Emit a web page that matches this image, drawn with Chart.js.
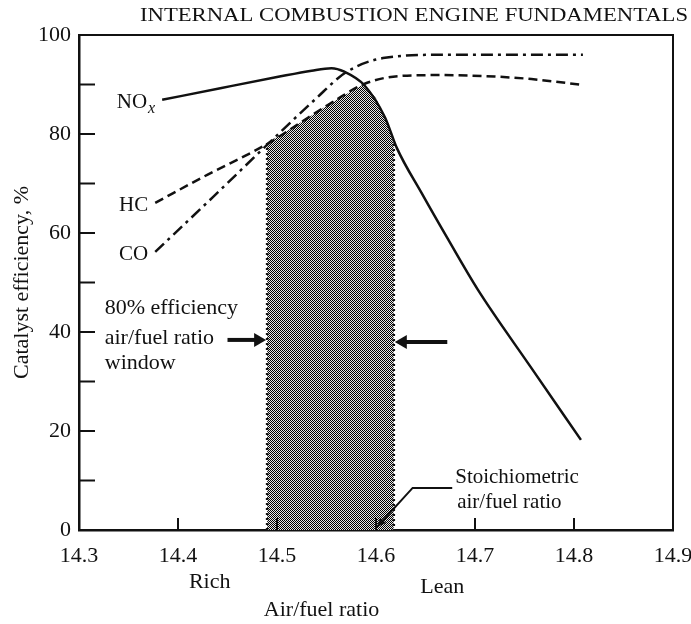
<!DOCTYPE html>
<html>
<head>
<meta charset="utf-8">
<title>Catalyst efficiency vs air/fuel ratio</title>
<script src="https://cdn.jsdelivr.net/npm/chart.js@4.4.1/dist/chart.umd.min.js"></script>
<style>
  html, body { margin: 0; padding: 0; background: #fff; }
  canvas { display: block; }
</style>
</head>
<body>
<canvas id="my-chart" width="691" height="624"></canvas>
<script>
'use strict';

// ***** DATA *****

let noxX = [14.384, 14.444, 14.500, 14.535, 14.555, 14.568, 14.588, 14.609, 14.621, 14.646, 14.672, 14.703, 14.756, 14.807];
let noxY = [86.9, 89.3, 91.5, 92.8, 93.3, 92.6, 89.9, 83.4, 77.2, 68.1, 59.0, 48.5, 33.0, 18.2];

let hcX = [14.377, 14.430, 14.492, 14.520, 14.555, 14.588, 14.623, 14.666, 14.720, 14.757, 14.809];
let hcY = [66.1, 71.8, 78.2, 81.8, 86.3, 90.1, 91.7, 91.9, 91.6, 91.1, 89.9];

let coX = [14.377, 14.435, 14.492, 14.538, 14.570, 14.609, 14.666, 14.740, 14.809];
let coY = [56.2, 67.2, 78.2, 86.9, 92.5, 95.4, 96.0, 96.0, 96.0];

// 80% window, top follows HC then NOx
let windowX = [14.490, 14.490, 14.520, 14.555, 14.588, 14.600, 14.609, 14.618, 14.618];
let windowY = [0, 78.2, 81.8, 86.3, 90.1, 87.2, 83.4, 78.0, 0];

let xTicks = [14.3, 14.4, 14.5, 14.6, 14.7, 14.8, 14.9];
let yTicks = [0, 20, 40, 60, 80, 100];

let seriesNames = ['NO', 'HC', 'CO'];


// ***** ANNOTATIONS (data coordinates) *****

let notes = [
    { text: '80% efficiency', x: 14.326, y: 44.8, align: 'left' },
    { text: 'air/fuel ratio', x: 14.326, y: 38.8, align: 'left' },
    { text: 'window', x: 14.326, y: 33.7, align: 'left' },
    { text: 'Stoichiometric', x: 14.680, y: 10.6, align: 'left', size: 21 },
    { text: 'air/fuel ratio', x: 14.682, y: 5.5, align: 'left', size: 21 },
    { text: 'Rich', x: 14.432, y: -10.5, align: 'center' },
    { text: 'Lean', x: 14.667, y: -11.5, align: 'center' },
    { text: 'Air/fuel ratio', x: 14.545, y: -16.2, align: 'center' }
];

let arrows = [
    { from: [14.450, 38.4], to: [14.489, 38.4] },
    { from: [14.672, 38.0], to: [14.619, 38.0] }
];

let leader = [[14.677, 8.5], [14.637, 8.5], [14.601, 0.6]];

const SERIF = '"Liberation Serif", "Times New Roman", serif';
const INK = '#111';


// ***** HELPERS *****

function toPoints(xs, ys) {
    let pts = [];
    for (let i = 0; i < xs.length; i++) {
        pts.push({ x: xs[i], y: ys[i] });
    }
    return pts;
}

function makeStipple() {
    let c = document.createElement('canvas');
    c.width = 2;
    c.height = 2;
    let g = c.getContext('2d');
    g.fillStyle = '#e8e8e8';
    g.fillRect(0, 0, 2, 2);
    g.fillStyle = '#000';
    g.fillRect(0, 0, 1, 1);
    g.fillRect(1, 1, 1, 1);
    return g.createPattern(c, 'repeat');
}

function drawArrowHead(ctx, x1, y1, x2, y2, len, half) {
    let a = Math.atan2(y2 - y1, x2 - x1);
    ctx.beginPath();
    ctx.moveTo(x2, y2);
    ctx.lineTo(x2 - len * Math.cos(a) + half * Math.sin(a), y2 - len * Math.sin(a) - half * Math.cos(a));
    ctx.lineTo(x2 - len * Math.cos(a) - half * Math.sin(a), y2 - len * Math.sin(a) + half * Math.cos(a));
    ctx.closePath();
    ctx.fill();
}


// ***** PLUGIN: frame, inward ticks, labels *****

let decorPlugin = {
    id: 'decor',
    afterDraw(chart) {
        let ctx = chart.ctx;
        let xs = chart.scales.x;
        let ys = chart.scales.y;
        let area = chart.chartArea;
        let px = v => xs.getPixelForValue(v);
        let py = v => ys.getPixelForValue(v);

        ctx.save();
        ctx.strokeStyle = INK;
        ctx.fillStyle = INK;

        // top and right frame lines
        ctx.lineWidth = 2;
        ctx.beginPath();
        ctx.moveTo(area.left, area.top);
        ctx.lineTo(area.right, area.top);
        ctx.lineTo(area.right, area.bottom);
        ctx.stroke();

        // inward ticks
        ctx.lineWidth = 2;
        ys.ticks.forEach(t => {
            if (t.value > 0 && t.value < 100) {
                ctx.beginPath();
                ctx.moveTo(area.left, py(t.value));
                ctx.lineTo(area.left + 16, py(t.value));
                ctx.stroke();
            }
        });
        xs.ticks.forEach(t => {
            if (t.value > 14.31 && t.value < 14.89) {
                ctx.beginPath();
                ctx.moveTo(px(t.value), area.bottom);
                ctx.lineTo(px(t.value), area.bottom - 12);
                ctx.stroke();
            }
        });

        // series names at the start of each curve
        let starts = [[noxX[0], noxY[0]], [hcX[0], hcY[0]], [coX[0], coY[0]]];
        ctx.font = '21px ' + SERIF;
        ctx.textBaseline = 'middle';
        for (let i = 0; i < seriesNames.length; i++) {
            let sx = px(starts[i][0]) - 7;
            let sy = py(starts[i][1]) + 3;
            if (i === 0) {
                ctx.font = 'italic 16px ' + SERIF;
                ctx.textAlign = 'right';
                ctx.fillText('x', sx, sy + 6);
                let w = ctx.measureText('x').width;
                ctx.font = '21px ' + SERIF;
                ctx.fillText(seriesNames[i], sx - w - 1, sy);
            } else {
                ctx.textAlign = 'right';
                ctx.fillText(seriesNames[i], sx, sy);
            }
        }

        // free text
        notes.forEach(n => {
            ctx.font = (n.size || 22) + 'px ' + SERIF;
            ctx.textAlign = n.align;
            ctx.textBaseline = 'middle';
            ctx.fillText(n.text, px(n.x), py(n.y));
        });

        // window arrows
        arrows.forEach(a => {
            let x1 = px(a.from[0]), y1 = py(a.from[1]);
            let x2 = px(a.to[0]), y2 = py(a.to[1]);
            let dir = Math.sign(x2 - x1);
            ctx.lineWidth = 4;
            ctx.beginPath();
            ctx.moveTo(x1, y1);
            ctx.lineTo(x2 - dir * 8, y2);
            ctx.stroke();
            drawArrowHead(ctx, x1, y1, x2, y2, 12, 7);
        });

        // stoichiometric leader
        ctx.lineWidth = 2;
        ctx.beginPath();
        leader.forEach((p, i) => {
            if (i === 0) ctx.moveTo(px(p[0]), py(p[1]));
            else ctx.lineTo(px(p[0]), py(p[1]));
        });
        ctx.stroke();
        let l1 = leader[leader.length - 2], l2 = leader[leader.length - 1];
        drawArrowHead(ctx, px(l1[0]), py(l1[1]), px(l2[0]), py(l2[1]), 9, 4);

        // running header
        let head = 'INTERNAL COMBUSTION ENGINE FUNDAMENTALS';
        ctx.font = '18px ' + SERIF;
        ctx.textAlign = 'left';
        ctx.textBaseline = 'middle';
        let hw = ctx.measureText(head).width;
        ctx.translate(140, 16);
        ctx.scale(548 / hw, 1);
        ctx.fillText(head, 0, 0);

        ctx.restore();
    }
};


// ***** CHART *****

let ctx = document.getElementById('my-chart');

let windowPts = toPoints(windowX, windowY);

let chartObj = {
    type: 'line',
    data: {
        datasets: [
            {
                label: 'NOx',
                data: toPoints(noxX, noxY),
                borderColor: INK,
                borderWidth: 2.5,
                pointRadius: 0,
                cubicInterpolationMode: 'monotone',
                fill: false,
                order: 0
            },
            {
                label: 'HC',
                data: toPoints(hcX, hcY),
                borderColor: INK,
                borderWidth: 2.5,
                borderDash: [9, 5],
                pointRadius: 0,
                cubicInterpolationMode: 'monotone',
                fill: false,
                order: 1
            },
            {
                label: 'CO',
                data: toPoints(coX, coY),
                borderColor: INK,
                borderWidth: 2.5,
                borderDash: [12, 5, 3, 5],
                pointRadius: 0,
                cubicInterpolationMode: 'monotone',
                fill: false,
                order: 2
            },
            {
                label: 'window',
                data: windowPts,
                borderWidth: 0,
                borderColor: 'rgba(0,0,0,0)',
                backgroundColor: makeStipple(),
                pointRadius: 0,
                tension: 0,
                fill: 'origin',
                order: 10
            },
            {
                label: 'window left edge',
                data: [windowPts[0], windowPts[1]],
                borderColor: INK,
                borderWidth: 2.5,
                borderDash: [2, 3],
                pointRadius: 0,
                fill: false,
                order: 5
            },
            {
                label: 'window right edge',
                data: [windowPts[windowPts.length - 2], windowPts[windowPts.length - 1]],
                borderColor: INK,
                borderWidth: 2.5,
                borderDash: [2, 3],
                pointRadius: 0,
                fill: false,
                order: 5
            }
        ]
    },
    options: {
        responsive: false,
        animation: false,
        layout: { padding: { left: 0, right: 18, top: 35, bottom: 0 } },
        plugins: {
            legend: { display: false },
            tooltip: { enabled: false },
            title: { display: false }
        },
        scales: {
            x: {
                type: 'linear',
                min: xTicks[0],
                max: xTicks[xTicks.length - 1],
                ticks: {
                    stepSize: 0.1,
                    autoSkip: false,
                    maxRotation: 0,
                    padding: 13,
                    color: INK,
                    font: { family: SERIF, size: 22 },
                    callback: v => v.toFixed(1)
                },
                grid: { display: false, drawTicks: false },
                border: { display: true, color: INK, width: 2.5 },
                afterFit(scale) {
                    scale.height = 94;
                    scale.paddingLeft = 0;
                    scale.paddingRight = 0;
                }
            },
            y: {
                min: yTicks[0],
                max: yTicks[yTicks.length - 1],
                ticks: {
                    stepSize: 10,
                    padding: 8,
                    color: INK,
                    font: { family: SERIF, size: 22 },
                    callback: v => yTicks.includes(v) ? String(v) : ''
                },
                grid: { display: false, drawTicks: false },
                border: { display: true, color: INK, width: 2.5 },
                title: {
                    display: true,
                    text: 'Catalyst efficiency, %',
                    color: INK,
                    font: { family: SERIF, size: 22 },
                    padding: { top: 9, bottom: 0 }
                },
                afterFit(scale) {
                    scale.width = 79;
                    scale.paddingTop = 0;
                    scale.paddingBottom = 0;
                }
            }
        }
    },
    plugins: [decorPlugin]
};

new Chart(ctx, chartObj);
</script>
</body>
</html>
